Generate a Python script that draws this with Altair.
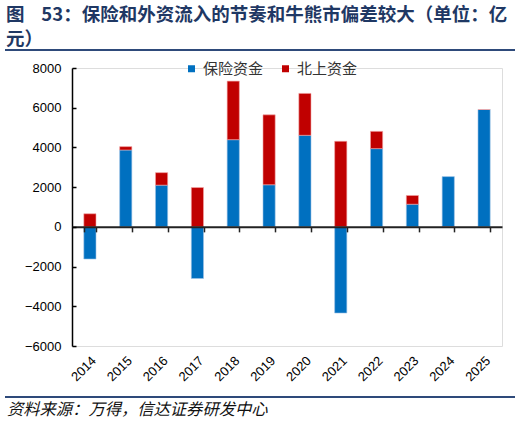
import altair as alt
import pandas as pd

years = ["2014", "2015", "2016", "2017", "2018", "2019", "2020", "2021", "2022", "2023", "2024", "2025"]
insurance = [-1620, 3870, 2100, -2600, 4390, 2120, 4610, -4340, 3940, 1140, 2530, 5910]
northbound = [660, 170, 630, 1980, 2950, 3520, 2110, 4310, 870, 440, -30, 0]
series = ["保险资金", "北上资金"]
colors = ["#0070C0", "#C00000"]
y_ticks = [-6000, -4000, -2000, 0, 2000, 4000, 6000, 8000]

title_lines = ["图\u00a0\u00a0\u00a0\u00a053：保险和外资流入的节奏和牛熊市偏差较大（单位：亿", "元）"]
footer = "资料来源：万得，信达证券研发中心"

rows = []
for i, yr in enumerate(years):
    rows.append({"year": yr, "series": series[0], "value": insurance[i], "ord": 0})
    rows.append({"year": yr, "series": series[1], "value": northbound[i], "ord": 1})
df = pd.DataFrame(rows)

W, H = 430, 278
FONT = "Liberation Sans"
CJK = "Noto Sans CJK SC"
NAVY = "#1F3864"

xscale = alt.Scale(paddingInner=0.66, paddingOuter=0.33)
yscale = alt.Scale(domain=[-6000, 8000], nice=False)

base = alt.Chart(df)

bars = base.mark_bar(strokeWidth=0.6).encode(
    x=alt.X("year:N", sort=years, scale=xscale, title=None,
            axis=alt.Axis(orient="bottom", domain=False, ticks=False, labelAngle=-45,
                          labelFontSize=13, labelFont=FONT, labelColor="#000",
                          labelPadding=8, grid=False)),
    y=alt.Y("value:Q", stack="zero", scale=yscale, title=None,
            axis=alt.Axis(orient="left", values=y_ticks, format="d", domain=True,
                          domainColor="#000", domainWidth=1.5, ticks=False,
                          labelFontSize=13, labelFont=FONT, labelColor="#000",
                          labelPadding=11, grid=False)),
    color=alt.Color("series:N", scale=alt.Scale(domain=series, range=colors),
                    sort=series,
                    legend=alt.Legend(orient="none", legendX=112, legendY=-7,
                                      direction="horizontal", title=None,
                                      symbolType="square", symbolSize=49,
                                      symbolStrokeWidth=0, labelFontSize=15,
                                      labelFont=CJK, labelColor="#333",
                                      columnPadding=14, labelOffset=4)),
    stroke=alt.Stroke("series:N", scale=alt.Scale(domain=series, range=["#9DC3E6", "#F4A6A6"]),
                      legend=None),
    order=alt.Order("ord:Q"),
)

axes = base.mark_bar(opacity=0).encode(
    x=alt.X("year:N", sort=years, scale=xscale, title=None,
            axis=alt.Axis(orient="bottom", offset=-(H * 6 / 14), labels=False,
                          domain=True, domainColor="#222", domainWidth=2,
                          ticks=True, tickBand="extent", tickSize=5,
                          tickColor="#222", tickWidth=1.5, zindex=1, grid=False)),
    y=alt.Y("value:Q", stack="zero", scale=yscale, title=None,
            axis=alt.Axis(orient="right", offset=-W, values=y_ticks, labels=False,
                          domain=False, ticks=True, tickSize=4, tickColor="#000",
                          tickWidth=1.5, zindex=1, grid=False)),
    order=alt.Order("ord:Q"),
)

one = alt.Data(values=[{}])

title1 = alt.Chart(one).mark_text(align="left", baseline="middle", fontSize=18.5,
                                  fontWeight="bold", font=CJK, color=NAVY).encode(
    x=alt.value(-66), y=alt.value(-53), text=alt.value(title_lines[0]))
title2 = alt.Chart(one).mark_text(align="left", baseline="middle", fontSize=18.5,
                                  fontWeight="bold", font=CJK, color=NAVY).encode(
    x=alt.value(-66), y=alt.value(-29), text=alt.value(title_lines[1]))
top_rule = alt.Chart(one).mark_rule(color="#2E4A7A", strokeWidth=2).encode(
    x=alt.value(-67), x2=alt.value(443), y=alt.value(-18))
bot_rule = alt.Chart(one).mark_rule(color="#2E4A7A", strokeWidth=2).encode(
    x=alt.value(-67), x2=alt.value(443), y=alt.value(329))
foot = alt.Chart(one).mark_text(align="left", baseline="middle", fontSize=16.3,
                                fontStyle="italic", font=CJK, color="#111").encode(
    x=alt.value(-65), y=alt.value(342), text=alt.value(footer))

chart = alt.layer(bars, axes, title1, title2, top_rule, bot_rule, foot).resolve_axis(
    x="independent", y="independent"
).properties(
    width=W, height=H,
    autosize=alt.AutoSizeParams(type="none"),
    padding={"left": 72, "top": 68, "right": 19, "bottom": 80},
).configure_view(stroke=None).configure(background="white")

chart.save("out.html", embed_options={"renderer": "svg", "actions": False})
